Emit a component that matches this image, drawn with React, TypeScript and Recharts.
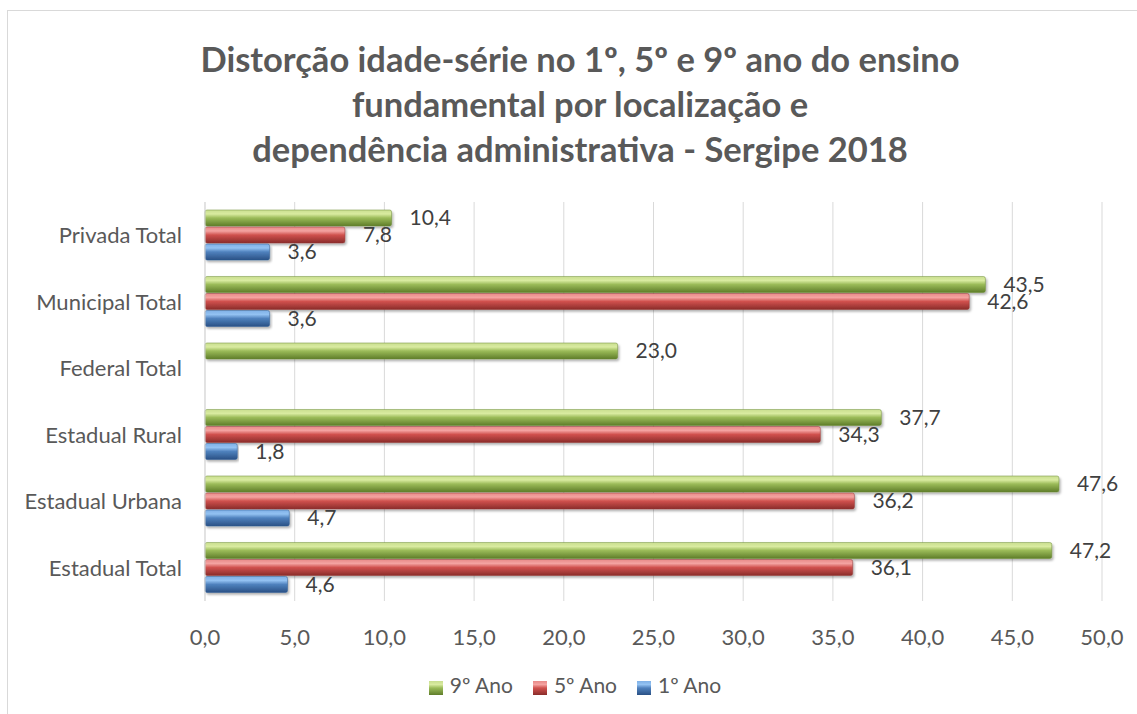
import { BarChart, Bar, XAxis, YAxis, CartesianGrid, Legend, LabelList } from "recharts";

const categories = ["Privada Total", "Municipal Total", "Federal Total", "Estadual Rural", "Estadual Urbana", "Estadual Total"];
const ano9 = [10.4, 43.5, 23.0, 37.7, 47.6, 47.2];
const ano5 = [7.8, 42.6, null, 34.3, 36.2, 36.1];
const ano1 = [3.6, 3.6, null, 1.8, 4.7, 4.6];
const xTicks = [0, 5, 10, 15, 20, 25, 30, 35, 40, 45, 50];
const legendOrder = ["9º Ano", "5º Ano", "1º Ano"];

const data = categories.map((c, i) => ({ name: c, a9: ano9[i], a5: ano5[i], a1: ano1[i] }));

const FONT = "Lato, 'Open Sans', sans-serif";
const fmt = (v: any) => (v == null ? "" : Number(v).toFixed(1).replace(".", ","));

export default function App() {
  return (
    <div style={{ position: "relative", width: 1137, height: 714, overflow: "hidden", background: "#fff", fontFamily: FONT }}>
      <style>{`body{margin:0;overflow:hidden}`}</style>
      {/* chart frame, cut off on right and bottom like the screenshot */}
      <div style={{ position: "absolute", left: 7, top: 10, width: 1140, height: 720, border: "1px solid #d9d9d9" }} />

      <div style={{
        position: "absolute", left: 0, top: 36, width: 1160, textAlign: "center",
        fontSize: 34.5, fontWeight: 700, color: "#595959", lineHeight: "45px",
      }}>
        Distorção idade-série no 1º, 5º e 9º ano do ensino<br />
        fundamental por localização e<br />
        dependência administrativa - Sergipe 2018
      </div>

      <div style={{ position: "absolute", left: 0, top: 0 }}>
        <BarChart
          width={1137} height={714} data={data} layout="vertical"
          margin={{ top: 202, right: 35, bottom: 58, left: 0 }}
          barCategoryGap="12%" barGap={1}
        >
          <defs>
            <linearGradient id="g9" x1="0" y1="0" x2="0" y2="1">
              <stop offset="0%" stopColor="#c9de8f" />
              <stop offset="25%" stopColor="#d9eba0" />
              <stop offset="50%" stopColor="#9bbb59" />
              <stop offset="100%" stopColor="#5f7d2a" />
            </linearGradient>
            <linearGradient id="g5" x1="0" y1="0" x2="0" y2="1">
              <stop offset="0%" stopColor="#e88a88" />
              <stop offset="25%" stopColor="#f4a3a1" />
              <stop offset="50%" stopColor="#d0514e" />
              <stop offset="100%" stopColor="#8a2c2a" />
            </linearGradient>
            <linearGradient id="g1" x1="0" y1="0" x2="0" y2="1">
              <stop offset="0%" stopColor="#7fb0e6" />
              <stop offset="25%" stopColor="#93c2f2" />
              <stop offset="50%" stopColor="#4f81bd" />
              <stop offset="100%" stopColor="#2a5185" />
            </linearGradient>
            <filter id="shadow" x="-5%" y="-30%" width="110%" height="170%">
              <feDropShadow dx="1.5" dy="2" stdDeviation="1.2" floodColor="#000" floodOpacity="0.3" />
            </filter>
          </defs>
          <CartesianGrid horizontal={false} stroke="#d9d9d9" />
          <XAxis
            type="number" domain={[0, 50]} ticks={xTicks} axisLine={false} tickLine={false}
            tickMargin={22} tickFormatter={fmt}
            tick={{ fill: "#595959", fontSize: 22, fontFamily: FONT }}
          />
          <YAxis
            type="category" dataKey="name" width={205} axisLine={{ stroke: "#d9d9d9" }} tickLine={false}
            tickMargin={17} tick={{ fill: "#595959", fontSize: 22, fontFamily: FONT }}
          />
          <Legend
            verticalAlign="bottom" iconType="square" iconSize={14}
            itemSorter={(item: any) => legendOrder.indexOf(item.value)}
            wrapperStyle={{ fontFamily: FONT, fontSize: 21, top: 672, bottom: "auto", left: 34 }}
            formatter={(v: any) => <span style={{ color: "#595959", marginLeft: 3, marginRight: 10 }}>{v}</span>}
          />
          <Bar dataKey="a9" name="9º Ano" fill="url(#g9)" stroke="#6b8a35" strokeWidth={0.5} radius={2} filter="url(#shadow)" isAnimationActive={false}>
            <LabelList dataKey="a9" position="right" offset={18} formatter={fmt} fill="#404040" fontSize={21} fontFamily={FONT} />
          </Bar>
          <Bar dataKey="a5" name="5º Ano" fill="url(#g5)" stroke="#943634" strokeWidth={0.5} radius={2} filter="url(#shadow)" isAnimationActive={false}>
            <LabelList dataKey="a5" position="right" offset={18} formatter={fmt} fill="#404040" fontSize={21} fontFamily={FONT} />
          </Bar>
          <Bar dataKey="a1" name="1º Ano" fill="url(#g1)" stroke="#2f5c94" strokeWidth={0.5} radius={2} filter="url(#shadow)" isAnimationActive={false}>
            <LabelList dataKey="a1" position="right" offset={18} formatter={fmt} fill="#404040" fontSize={21} fontFamily={FONT} />
          </Bar>
        </BarChart>
      </div>
    </div>
  );
}
